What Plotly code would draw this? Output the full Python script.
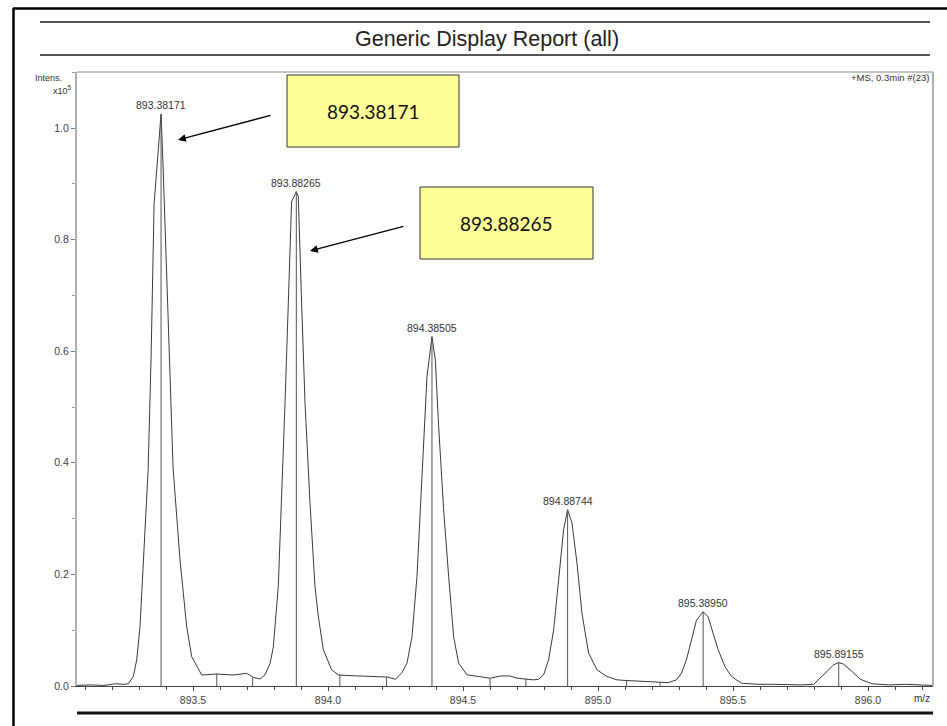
import plotly.graph_objects as go

# Profile spectrum (m/z, intensity x10^5)
profile_mz = [
    893.070, 893.120, 893.170, 893.210, 893.245, 893.260, 893.279, 893.2915, 893.3037, 893.316,
    893.3337, 893.3448, 893.3559, 893.3817, 893.3893, 893.4078, 893.4263, 893.4519, 893.4767, 893.4952,
    893.5322, 893.5878, 893.6493, 893.6989, 893.7233, 893.7482, 893.7667, 893.7852, 893.7975, 893.816,
    893.8282, 893.8408, 893.853, 893.8652, 893.8827, 893.890, 893.9023, 893.9149, 893.9334, 893.9519,
    893.9641, 893.9827, 894.0134, 894.0382, 894.060, 894.120, 894.170, 894.220, 894.250, 894.2739,
    894.2925, 894.311, 894.3295, 894.3421, 894.3543, 894.3665, 894.3851, 894.3976, 894.4099, 894.4284,
    894.4469, 894.4654, 894.4839, 894.5147, 894.558, 894.600, 894.640, 894.674, 894.700, 894.723,
    894.760, 894.780, 894.7985, 894.817, 894.8356, 894.8541, 894.8726, 894.8874, 894.9037, 894.9222,
    894.9407, 894.9652, 894.9963, 895.0333, 895.0704, 895.100, 895.150, 895.200, 895.240, 895.2599,
    895.2906, 895.3091, 895.3276, 895.3462, 895.3647, 895.3895, 895.408, 895.4265, 895.4451, 895.4699,
    895.4943, 895.5314, 895.5932, 895.650, 895.700, 895.750, 895.799, 895.8423, 895.873, 895.8916,
    895.910, 895.9408, 895.9719, 896.0149, 896.0767, 896.1385, 896.2126, 896.240,
]
profile_int = [
    0.001, 0.002, 0.001, 0.004, 0.003, 0.004, 0.017, 0.047, 0.106, 0.226,
    0.386, 0.590, 0.864, 1.025, 0.930, 0.660, 0.390, 0.226, 0.106, 0.0525,
    0.0197, 0.0215, 0.0197, 0.0227, 0.0156, 0.0125, 0.020, 0.040, 0.070, 0.180,
    0.327, 0.507, 0.686, 0.868, 0.886, 0.877, 0.686, 0.507, 0.327, 0.178,
    0.125, 0.065, 0.029, 0.020, 0.019, 0.018, 0.017, 0.016, 0.012, 0.024,
    0.041, 0.088, 0.196, 0.315, 0.435, 0.554, 0.626, 0.584, 0.465, 0.315,
    0.196, 0.088, 0.041, 0.020, 0.017, 0.014, 0.018, 0.018, 0.014, 0.013,
    0.011, 0.012, 0.020, 0.047, 0.100, 0.190, 0.280, 0.316, 0.292, 0.220,
    0.130, 0.059, 0.029, 0.017, 0.011, 0.010, 0.009, 0.007, 0.007, 0.006,
    0.011, 0.023, 0.047, 0.082, 0.118, 0.133, 0.124, 0.094, 0.065, 0.035,
    0.017, 0.005, 0.003, 0.003, 0.002, 0.002, 0.003, 0.023, 0.038, 0.042,
    0.039, 0.026, 0.012, 0.004, 0.002, 0.003, 0.001, 0.001,
]

# Centroided peaks
peak_mz = [893.38171, 893.88265, 894.38505, 894.88744, 895.38950, 895.89155]
peak_int = [1.025, 0.886, 0.626, 0.316, 0.133, 0.042]
peak_labels = ["893.38171", "893.88265", "894.38505", "894.88744", "895.38950", "895.89155"]

# Peak boundary markers
bound_mz = [893.588, 893.721, 894.044, 894.217, 894.600, 894.733, 895.106, 895.230]
bound_int = [0.0215, 0.016, 0.020, 0.016, 0.014, 0.013, 0.010, 0.007]

# Highlighted peaks shown in call-out boxes
callout_labels = ["893.38171", "893.88265"]

W, H = 947, 726
L, R, T, B = 77, 933, 72, 686
X0 = 893.5 - (193 - L) / 270.0
X1 = 893.5 + (R - 193) / 270.0
Y1 = (B - T) / 558.0


def px(x):
    return (x - L) / (R - L)


def py(y):
    return (B - y) / (B - T)


def mz_at(x):
    return 893.5 + (x - 193) / 270.0


def int_at(y):
    return (B - y) / 558.0


def sticks(xs, ys):
    sx, sy = [], []
    for a, b in zip(xs, ys):
        sx += [a, a, None]
        sy += [0, b, None]
    return sx, sy


fig = go.Figure()
fig.add_trace(go.Scatter(x=profile_mz, y=profile_int, mode="lines",
                         line=dict(color="#3a3a3a", width=1), hoverinfo="skip"))
sx, sy = sticks(peak_mz, peak_int)
fig.add_trace(go.Scatter(x=sx, y=sy, mode="lines",
                         line=dict(color="#555555", width=1), hoverinfo="skip"))
bx, by = sticks(bound_mz, bound_int)
fig.add_trace(go.Scatter(x=bx, y=by, mode="lines",
                         line=dict(color="#555555", width=1), hoverinfo="skip"))

ann = []
for m, v, t in zip(peak_mz, peak_int, peak_labels):
    ann.append(dict(x=m, y=v, xref="x", yref="y", text=t, showarrow=False,
                    yanchor="bottom", yshift=1,
                    font=dict(family="Liberation Sans, Arial", size=10.5, color="#333")))

font_small = dict(family="Liberation Sans, Arial", size=9, color="#333")
ann += [
    dict(x=px(487), y=py(39), xref="paper", yref="paper", text="Generic Display Report (all)",
         showarrow=False, xanchor="center", yanchor="middle",
         font=dict(family="Liberation Sans, Arial", size=21.5, color="#222")),
    dict(x=px(64), y=py(78), xref="paper", yref="paper", text="Intens.", showarrow=False,
         xanchor="right", yanchor="middle", font=font_small),
    dict(x=px(74), y=py(90), xref="paper", yref="paper", text="x10<sup>5</sup>", showarrow=False,
         xanchor="right", yanchor="middle", font=font_small),
    dict(x=px(931), y=py(77), xref="paper", yref="paper", text="+MS, 0.3min #(23)",
         showarrow=False, xanchor="right", yanchor="middle",
         font=dict(family="Liberation Sans, Arial", size=9.5, color="#333")),
    dict(x=px(932), y=py(698), xref="paper", yref="paper", text="m/z", showarrow=False,
         xanchor="right", yanchor="middle",
         font=dict(family="Liberation Sans, Arial", size=10, color="#333")),
]

# Call-out boxes with arrows
boxes = [(287, 75, 459, 147), (420, 187, 593, 259)]
arrows = [((272, 115), (178, 140)), ((405, 226), (310, 251))]
shapes = []
for (x0, y0, x1, y1), t in zip(boxes, callout_labels):
    shapes.append(dict(type="rect", xref="x", yref="y", x0=mz_at(x0), x1=mz_at(x1),
                       y0=int_at(y1), y1=int_at(y0), fillcolor="#FFFF99",
                       line=dict(color="#333", width=1), layer="above"))
    ann.append(dict(x=mz_at((x0 + x1) / 2), y=int_at((y0 + y1) / 2), xref="x", yref="y",
                    text=t, showarrow=False, xanchor="center", yanchor="middle",
                    font=dict(family="Lato, Open Sans, sans-serif", size=19, color="#111")))
for (tx, ty), (hx, hy) in arrows:
    ann.append(dict(x=mz_at(hx), y=int_at(hy), ax=mz_at(tx), ay=int_at(ty),
                    xref="x", yref="y", axref="x", ayref="y", text="", showarrow=True,
                    arrowhead=2, arrowsize=1.2, arrowwidth=1.3, arrowcolor="#000"))

# Page frame and rules
shapes += [
    dict(type="line", xref="paper", yref="paper", x0=px(13), x1=px(947), y0=py(8.5), y1=py(8.5),
         line=dict(color="#000", width=2.5)),
    dict(type="line", xref="paper", yref="paper", x0=px(13.5), x1=px(13.5), y0=py(8), y1=py(726),
         line=dict(color="#000", width=2.5)),
    dict(type="line", xref="paper", yref="paper", x0=px(40), x1=px(930), y0=py(22), y1=py(22),
         line=dict(color="#555", width=2)),
    dict(type="line", xref="paper", yref="paper", x0=px(40), x1=px(930), y0=py(55), y1=py(55),
         line=dict(color="#555", width=2)),
    dict(type="line", xref="paper", yref="paper", x0=px(77), x1=px(933), y0=py(713), y1=py(713),
         line=dict(color="#111", width=3)),
    dict(type="line", xref="paper", yref="paper", x0=0, x1=1, y0=1, y1=1,
         line=dict(color="#b0b0b0", width=1.5)),
    dict(type="line", xref="paper", yref="paper", x0=1, x1=1, y0=0, y1=1,
         line=dict(color="#b0b0b0", width=2)),
]

tickfont = dict(family="Liberation Sans, Arial", size=10.5, color="#444")
fig.update_layout(
    width=W, height=H, margin=dict(l=L, r=W - R, t=T, b=H - B),
    paper_bgcolor="white", plot_bgcolor="white", showlegend=False,
    annotations=ann, shapes=shapes,
    xaxis=dict(range=[X0, X1], tickmode="linear", tick0=893.5, dtick=0.5, tickformat=".1f",
               showgrid=False, zeroline=False, showline=True, linecolor="#444", linewidth=1,
               ticks="outside", ticklen=4, tickcolor="#444", tickfont=tickfont,
               minor=dict(dtick=0.1, ticks="outside", ticklen=3, tickcolor="#444")),
    yaxis=dict(range=[0, Y1], tickmode="linear", tick0=0, dtick=0.2, tickformat=".1f",
               showgrid=False, zeroline=False, showline=True, linecolor="#b0b0b0", linewidth=2,
               ticks="outside", ticklen=4, tickcolor="#777", tickfont=tickfont,
               minor=dict(dtick=0.1, ticks="outside", ticklen=3, tickcolor="#999")),
)

fig.write_html("out.html")
